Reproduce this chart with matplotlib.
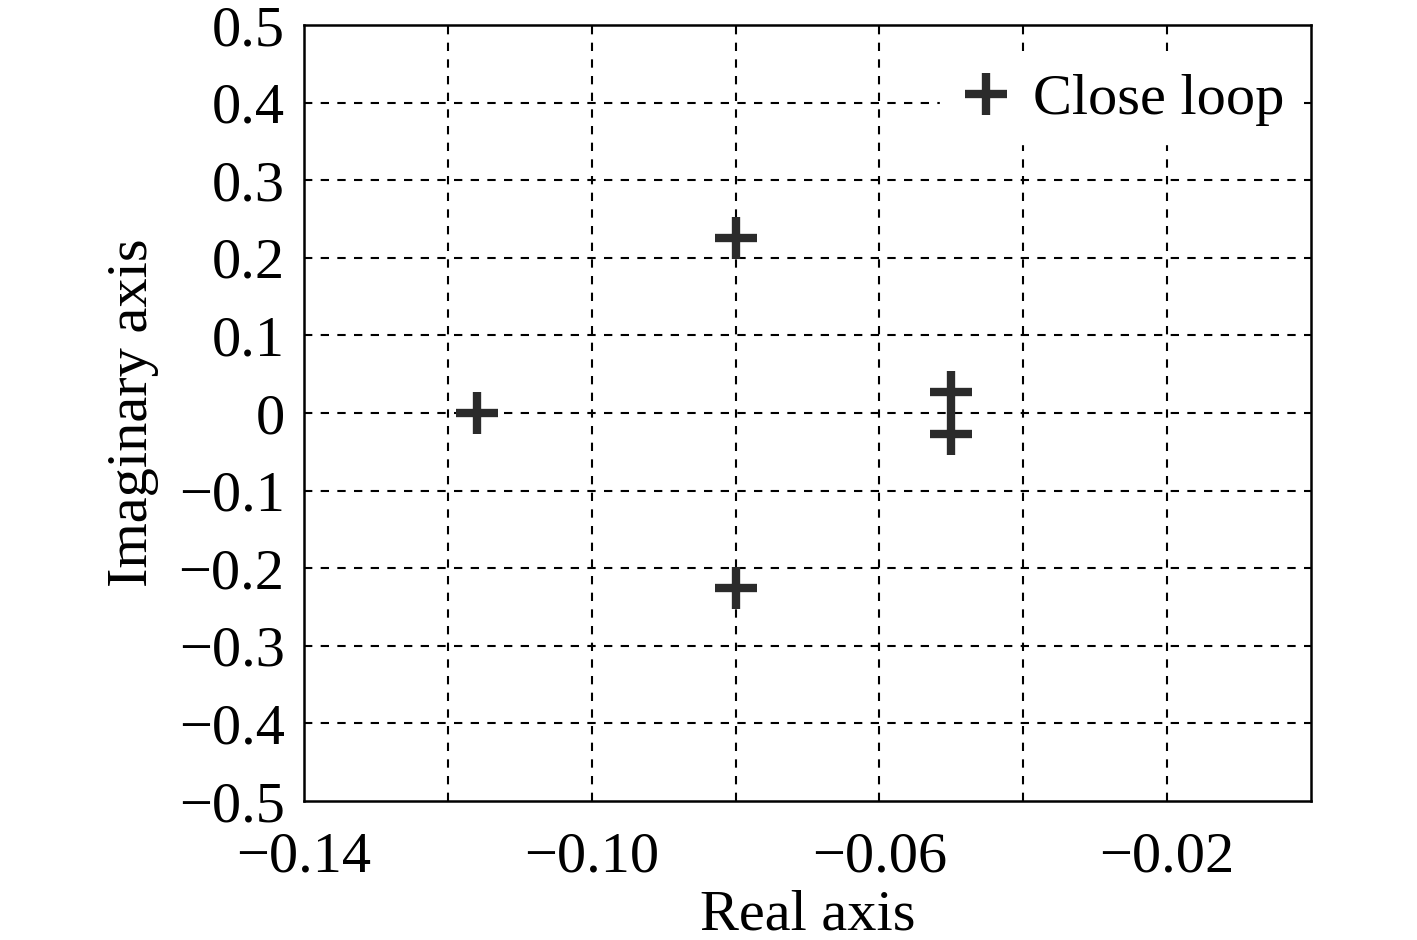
import matplotlib
matplotlib.use("Agg")
import matplotlib.pyplot as plt

plt.rcParams['font.family'] = ['Liberation Serif', 'DejaVu Serif']

real_parts = [-0.116, -0.08, -0.08, -0.05, -0.05]
imag_parts = [0.0, 0.225, -0.225, 0.027, -0.027]
series_label = "Close loop"
xticks = [-0.14, -0.10, -0.06, -0.02]
xtick_labels = ["\u22120.14", "\u22120.10", "\u22120.06", "\u22120.02"]
yticks = [0.5, 0.4, 0.3, 0.2, 0.1, 0.0, -0.1, -0.2, -0.3, -0.4, -0.5]
ytick_labels = ["0.5", "0.4", "0.3", "0.2", "0.1", "0", "\u22120.1", "\u22120.2", "\u22120.3", "\u22120.4", "\u22120.5"]
grid_x = [-0.12, -0.10, -0.08, -0.06, -0.04, -0.02]

fig = plt.figure(figsize=(14.17, 9.4), dpi=100)
ax = fig.add_axes([304/1417, 1 - 801/940, (1311-304)/1417, (801-25)/940])

ax.plot(real_parts, imag_parts, linestyle='none', marker='+', markersize=30,
        markeredgewidth=6, color='#2b2b2b', label=series_label, zorder=3)

ax.set_xlim(-0.14, 0.0)
ax.set_ylim(-0.5, 0.5)
ax.set_xticks(xticks)
ax.set_xticklabels(xtick_labels)
ax.set_yticks(yticks)
ax.set_yticklabels(ytick_labels)
ax.tick_params(axis='both', length=0, labelsize=42)
ax.tick_params(axis='x', pad=22)
ax.tick_params(axis='y', pad=14)

for gx in grid_x:
    ax.axvline(gx, color='black', linestyle=(0, (4, 4)), linewidth=1.5, zorder=1)
for gy in yticks[1:-1]:
    ax.axhline(gy, color='black', linestyle=(0, (4, 4)), linewidth=1.5, zorder=1)

for s in ax.spines.values():
    s.set_linewidth(1.8)

ax.set_xlabel("Real axis", fontsize=42, labelpad=4)
ax.set_ylabel("Imaginary axis", fontsize=42, labelpad=14)

leg = ax.legend(loc='upper right', frameon=True, fontsize=42, handlelength=1.0,
                handletextpad=0.3, borderpad=0.3, borderaxespad=0.0,
                bbox_to_anchor=(0.991, 0.96))
leg.get_frame().set_edgecolor('white')
leg.get_frame().set_facecolor('white')
leg.get_frame().set_alpha(1.0)
leg.get_frame().set_boxstyle('square', pad=0.0)

fig.savefig("out.png", dpi=100, facecolor='white')
